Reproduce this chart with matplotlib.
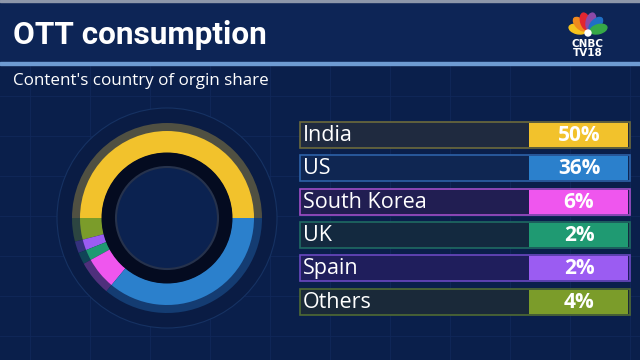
import math
import matplotlib.pyplot as plt
from matplotlib.patches import Rectangle, Circle, Ellipse
from matplotlib.colors import to_rgb

# data
countries = ["India", "US", "South Korea", "UK", "Spain", "Others"]
shares = [50, 36, 6, 2, 2, 4]
colors = ["#f2c22c", "#2b80cc", "#ef56ee", "#1f9a72", "#9b5cf2", "#7b9c2a"]
row_fill = ["#1f2a3f", "#0f2652", "#211e52", "#13293f", "#1f1e5c", "#1a2939"]
row_edge = ["#6c6a3c", "#2d62a8", "#a04ec8", "#1f6a62", "#6a48c0", "#4f6a34"]

# donut draws counterclockwise from 3 o'clock: India, Others, Spain, UK, South Korea, US
pie_order = [0, 5, 4, 3, 2, 1]

bg = "#0a1f4b"


def shade(c, f):
    r, g, b = to_rgb(c)
    br, bgg, bb = to_rgb(bg)
    return (br + (r - br) * f, bgg + (g - bgg) * f, bb + (b - bb) * f)


def fit_width(t, width_px):
    # shrink/grow font so the text spans width_px pixels
    r = fig.canvas.get_renderer()
    w = t.get_window_extent(r).width
    t.set_fontsize(t.get_fontsize() * width_px / w)


fig = plt.figure(figsize=(6.4, 3.6), dpi=100)
fig.patch.set_facecolor(bg)
ax = fig.add_axes([0, 0, 1, 1])
ax.set_xlim(0, 640)
ax.set_ylim(360, 0)
ax.axis("off")

# header band
ax.add_patch(Rectangle((0, 0), 640, 63, color="#0d2556", zorder=0))
ax.add_patch(Rectangle((0, 0), 640, 2, color="#8d97aa", zorder=1))
ax.add_patch(Rectangle((0, 62), 640, 2.5, color="#6e9bd2", zorder=1))

# faint grid
for gx in range(30, 640, 60):
    ax.plot([gx, gx], [66, 360], color="#11285a", lw=0.6, zorder=0)
for gy in range(96, 360, 40):
    ax.plot([0, 640], [gy, gy], color="#11285a", lw=0.6, zorder=0)

title = ax.text(13, 35, "OTT consumption", color="white", fontsize=27, fontweight="bold",
                family=["Liberation Sans Narrow", "Roboto", "DejaVu Sans"],
                va="center", ha="left")
fit_width(title, 254)
sub = ax.text(13, 81, "Content's country of orgin share", color="white", fontsize=12.5,
              family=["Open Sans", "DejaVu Sans"], va="center", ha="left")
fit_width(sub, 255)

# logo
feather = ["#f6c31c", "#f08a1e", "#e2262f", "#8c4aa8", "#1f6fc5", "#36a947"]
for i, fc in enumerate(feather):
    ang = 165 - i * 30
    cx = 588 + 11 * math.cos(math.radians(ang))
    cy = 32 - 11 * math.sin(math.radians(ang))
    ax.add_patch(Ellipse((cx, cy), 9, 17, angle=90 - ang, color=fc, zorder=3))
ax.add_patch(Circle((588, 33), 3, color="white", zorder=4))
ax.text(588, 44, "CNBC", color="white", fontsize=7.5, fontweight="bold",
        ha="center", va="center", zorder=4)
ax.text(588, 53, "TV18", color="white", fontsize=7.5, fontweight="bold",
        ha="center", va="center", zorder=4)

# donut
dax = fig.add_axes([(167 - 115) / 640, (360 - 218 - 115) / 360, 230 / 640, 230 / 360])
dax.set_aspect("equal")
dax.axis("off")
dax.add_patch(Circle((0, 0), 110, facecolor="#0a1c44", edgecolor="#163263", lw=0.8))
vals = [shares[i] for i in pie_order]
cols = [colors[i] for i in pie_order]
dax.pie(vals, colors=[shade(c, 0.3) for c in cols], radius=95, startangle=0,
        counterclock=True, wedgeprops=dict(width=9, linewidth=0))
dax.pie(vals, colors=cols, radius=87, startangle=0, counterclock=True,
        wedgeprops=dict(width=22, linewidth=0))
dax.add_patch(Circle((0, 0), 65.5, facecolor="#040b20", edgecolor="none"))
dax.add_patch(Circle((0, 0), 51, facecolor="#0b2250", edgecolor="#26324c", lw=1.5))
dax.set_xlim(-115, 115)
dax.set_ylim(-115, 115)

# table rows
top0 = 122
pitch = 33.3
h = 26
for i, (name, val) in enumerate(zip(countries, shares)):
    y = top0 + i * pitch
    ax.add_patch(Rectangle((300, y), 330, h, facecolor=row_fill[i],
                           edgecolor=row_edge[i], lw=1.2, zorder=2))
    ax.add_patch(Rectangle((529, y + 1), 99, h - 2, facecolor=colors[i],
                           edgecolor="none", zorder=3))
    ax.text(303, y + h / 2 + 0.5, name, color="white", fontsize=15.5,
            family=["Open Sans", "DejaVu Sans"], va="center", ha="left", zorder=4)
    ax.text(579, y + h / 2 + 0.5, f"{val}%", color="white", fontsize=15,
            fontweight="bold", family=["Open Sans", "DejaVu Sans"],
            va="center", ha="center", zorder=4)

fig.savefig("out.png", dpi=100, facecolor=bg)
